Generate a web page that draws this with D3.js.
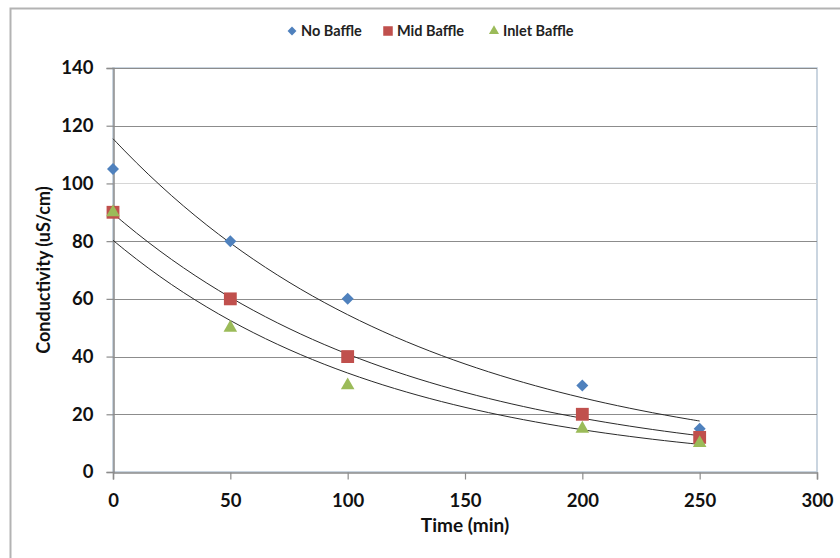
<!DOCTYPE html>
<html>
<head>
<meta charset="utf-8">
<script src="https://cdn.jsdelivr.net/npm/d3@7"></script>
<style>
  body { margin: 0; background: #fff; }
  svg { display: block; font-family: Lato, "Open Sans", sans-serif; }
</style>
</head>
<body>
<div id="chart"></div>
<script>
'use strict';

/*** Data */
const times = [0, 50, 100, 200, 250];
const noBaffle = [105, 80, 60, 30, 15];
const midBaffle = [90, 60, 40, 20, 12];
const inletBaffle = [90, 50, 30, 15, 10];
const seriesNames = ["No Baffle", "Mid Baffle", "Inlet Baffle"];
const xTicks = [0, 50, 100, 150, 200, 250, 300];
const yTicks = [0, 20, 40, 60, 80, 100, 120, 140];

/*** Graph dimensions */
const w = 840;
const h = 558;
const margin = {top: 68, right: 23, bottom: 86, left: 113};

const svg = d3.select("#chart")
    .append("svg")
    .attr("width", w)
    .attr("height", h);

/** Outer chart border */
svg.append("rect")
    .attr("x", 10.5).attr("y", 8.5)
    .attr("width", w + 10).attr("height", h + 10)
    .attr("fill", "none")
    .attr("stroke", "#b3b3b3")
    .attr("stroke-width", 2);

const xScale = d3.scaleLinear()
    .domain([0, 300])
    .range([margin.left, w - margin.right]);

const yScale = d3.scaleLinear()
    .domain([0, 140])
    .range([h - margin.bottom, margin.top]);

/** Plot area border (right side is a light line) */
svg.append("rect")
    .attr("x", xScale(0)).attr("y", yScale(140))
    .attr("width", xScale(300) - xScale(0))
    .attr("height", yScale(0) - yScale(140))
    .attr("fill", "none")
    .attr("stroke", "#b9c7d6")
    .attr("stroke-width", 1.5);

/** Gridlines */
svg.append("g")
    .selectAll("line")
    .data(yTicks.filter(d => d > 0))
    .join("line")
    .attr("x1", xScale(0))
    .attr("x2", xScale(300))
    .attr("y1", d => Math.round(yScale(d)) + 0.5)
    .attr("y2", d => Math.round(yScale(d)) + 0.5)
    .attr("stroke", d => d === 100 ? "#d6d6d6" : "#8c8c8c")
    .attr("stroke-width", 1.2);

/** Axes */
const xAxis = d3.axisBottom(xScale)
    .tickValues(xTicks)
    .tickSize(7)
    .tickPadding(14)
    .tickFormat(d3.format("d"));

const yAxis = d3.axisLeft(yScale)
    .tickValues(yTicks)
    .tickSize(7)
    .tickPadding(13)
    .tickFormat(d3.format("d"));

const gx = svg.append("g")
    .attr("transform", "translate(0," + (Math.round(yScale(0)) + 0.5) + ")")
    .call(xAxis);

const gy = svg.append("g")
    .attr("transform", "translate(" + (Math.round(xScale(0)) + 0.5) + ",0)")
    .call(yAxis);

[gx, gy].forEach(g => {
    g.select(".domain").attr("stroke", "#8c8c8c").attr("stroke-width", 1.5);
    g.selectAll(".tick line").attr("stroke", "#8c8c8c").attr("stroke-width", 1.2);
    g.selectAll(".tick text")
        .attr("fill", "#111")
        .style("font-size", "18.5px")
        .style("font-weight", "bold")
        .style("font-family", "Lato, 'Open Sans', sans-serif");
});

/** Axis titles */
svg.append("text")
    .attr("x", (xScale(0) + xScale(300)) / 2)
    .attr("y", 532)
    .attr("text-anchor", "middle")
    .style("font-size", "19px")
    .style("font-weight", "bold")
    .attr("fill", "#111")
    .text("Time (min)");

svg.append("text")
    .attr("transform", "translate(50," + ((yScale(0) + yScale(140)) / 2) + ") rotate(-90)")
    .attr("text-anchor", "middle")
    .style("font-size", "18px")
    .style("font-weight", "bold")
    .attr("fill", "#111")
    .text("Conductivity (uS/cm)");

/** Series setup */
const series = [
    {name: seriesNames[0], values: noBaffle, color: "#4f81bd", symbol: d3.symbolSquare, size: 72, rotate: 45},
    {name: seriesNames[1], values: midBaffle, color: "#c0504d", symbol: d3.symbolSquare, size: 165, rotate: 0},
    {name: seriesNames[2], values: inletBaffle, color: "#9bbb59", symbol: d3.symbolTriangle, size: 80, rotate: 0}
];

/** Exponential trendline: least squares on ln(y), as Excel does */
const expFit = (xs, ys) => {
    const ly = ys.map(Math.log);
    const mx = d3.mean(xs), my = d3.mean(ly);
    const sxy = d3.sum(xs, (x, i) => (x - mx) * (ly[i] - my));
    const sxx = d3.sum(xs, x => (x - mx) * (x - mx));
    const b = sxy / sxx;
    const a = Math.exp(my - b * mx);
    return x => a * Math.exp(b * x);
};

const line = d3.line()
    .x(d => xScale(d[0]))
    .y(d => yScale(d[1]))
    .curve(d3.curveBasis);

series.forEach(s => {
    const f = expFit(times, s.values);
    const pts = d3.range(0, 251, 5).map(x => [x, f(x)]);
    svg.append("path")
        .datum(pts)
        .attr("fill", "none")
        .attr("stroke", "#2a2a2a")
        .attr("stroke-width", 1)
        .attr("d", line);
});

/** Markers, later series on top */
series.forEach(s => {
    svg.append("g")
        .selectAll("path")
        .data(times.map((t, i) => [t, s.values[i]]))
        .join("path")
        .attr("transform", d => "translate(" + xScale(d[0]) + "," + yScale(d[1]) + ") rotate(" + s.rotate + ")")
        .attr("d", d3.symbol().type(s.symbol).size(s.size))
        .attr("fill", s.color);
});

/** Legend */
const legendPos = [292, 388, 494];
const legend = svg.append("g");
series.forEach((s, i) => {
    legend.append("path")
        .attr("transform", "translate(" + legendPos[i] + ",31) rotate(" + s.rotate + ")")
        .attr("d", d3.symbol().type(s.symbol).size(s.size * 0.55))
        .attr("fill", s.color);
    legend.append("text")
        .attr("x", legendPos[i] + 9)
        .attr("y", 36)
        .style("font-size", "14.5px")
        .style("font-weight", "bold")
        .attr("fill", "#222")
        .text(s.name);
});
</script>
</body>
</html>
